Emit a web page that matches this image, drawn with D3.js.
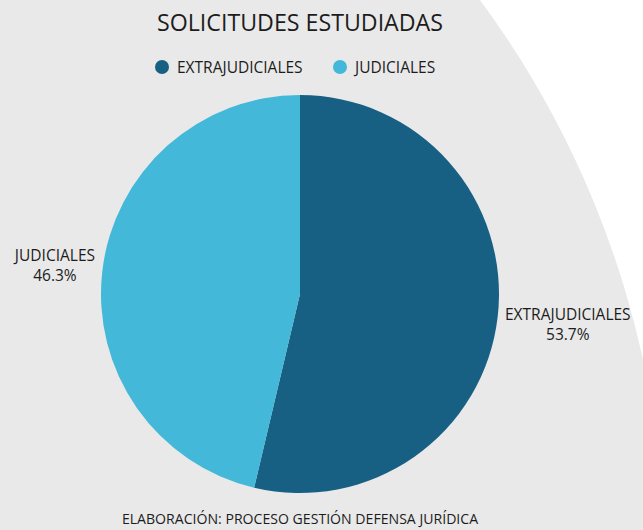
<!DOCTYPE html>
<html>
<head>
<meta charset="utf-8">
<script src="https://cdn.jsdelivr.net/npm/d3@7"></script>
<style>
  html, body { margin: 0; padding: 0; background: #ffffff; }
  svg { display: block; font-family: "Open Sans", sans-serif; }
</style>
</head>
<body>
<div id="chart-div"></div>
<script>
const categories = ["EXTRAJUDICIALES", "JUDICIALES"];
const values = [53.7, 46.3];
const colors = ["#176083", "#43b8d8"];
const chartTitle = "SOLICITUDES ESTUDIADAS";
const footNote = "ELABORACIÓN: PROCESO GESTIÓN DEFENSA JURÍDICA";

const width = 643, height = 530;
const cx = 300, cy = 294, radius = 199;
const labelEdge = 205; // horizontal gap from centre to the label's near edge
const labelRise = 256; // radius used for the label's vertical position
const textColor = "#1c1c1c";
const labelSize = 15.5;

var svg = d3
  .select("#chart-div")
  .append("svg")
  .attr("width", width)
  .attr("height", height)
  .attr("viewBox", "0 0 " + width + " " + height);

// grey backdrop is a big circle, top right corner stays white
svg.append("rect").attr("width", width).attr("height", height).attr("fill", "#ffffff");
svg
  .append("circle")
  .attr("cx", -281)
  .attr("cy", 562)
  .attr("r", 946)
  .attr("fill", "#e9e9e9");

svg
  .append("text")
  .attr("x", cx)
  .attr("y", 31)
  .attr("text-anchor", "middle")
  .attr("font-size", 23.2)
  .attr("fill", textColor)
  .text(chartTitle);

// legend
var legendX = [162, 340];
var legend = svg
  .selectAll(".legend")
  .data(categories)
  .enter()
  .append("g")
  .attr("class", "legend")
  .attr("transform", (d, i) => "translate(" + legendX[i] + ",67)");

legend.append("circle").attr("r", 7).attr("fill", (d, i) => colors[i]);
legend
  .append("text")
  .attr("x", 15)
  .attr("y", 5.5)
  .attr("font-size", labelSize)
  .attr("fill", textColor)
  .text((d) => d);

var colorScale = d3.scaleOrdinal().domain(categories).range(colors);

var pie = d3.pie().sort(null).value((d, i) => values[i]);
var arc = d3.arc().innerRadius(0).outerRadius(radius);

var gPie = svg.append("g").attr("transform", "translate(" + cx + "," + cy + ")");
var slices = pie(categories);

gPie
  .selectAll("path")
  .data(slices)
  .enter()
  .append("path")
  .attr("d", arc)
  .attr("fill", (d) => colorScale(d.data));

// outside labels, two centred lines
slices.forEach(function (d) {
  var mid = (d.startAngle + d.endAngle) / 2;
  var side = Math.sin(mid) > 0 ? 1 : -1;
  var py = -labelRise * Math.cos(mid);
  var label = gPie.append("text").attr("font-size", labelSize).attr("fill", textColor);
  var line1 = label.append("tspan").attr("x", 0).attr("y", 0).text(d.data);
  var w = line1.node().getComputedTextLength();
  var x = side * (labelEdge + w / 2);
  line1.attr("x", x).attr("y", py - 3.5).attr("text-anchor", "middle");
  label
    .append("tspan")
    .attr("x", x)
    .attr("y", py + 16.5)
    .attr("text-anchor", "middle")
    .text(d3.format(".1f")(values[categories.indexOf(d.data)]) + "%");
});

svg
  .append("text")
  .attr("x", cx)
  .attr("y", 524)
  .attr("text-anchor", "middle")
  .attr("font-size", 14.1)
  .attr("fill", textColor)
  .text(footNote);
</script>
</body>
</html>
